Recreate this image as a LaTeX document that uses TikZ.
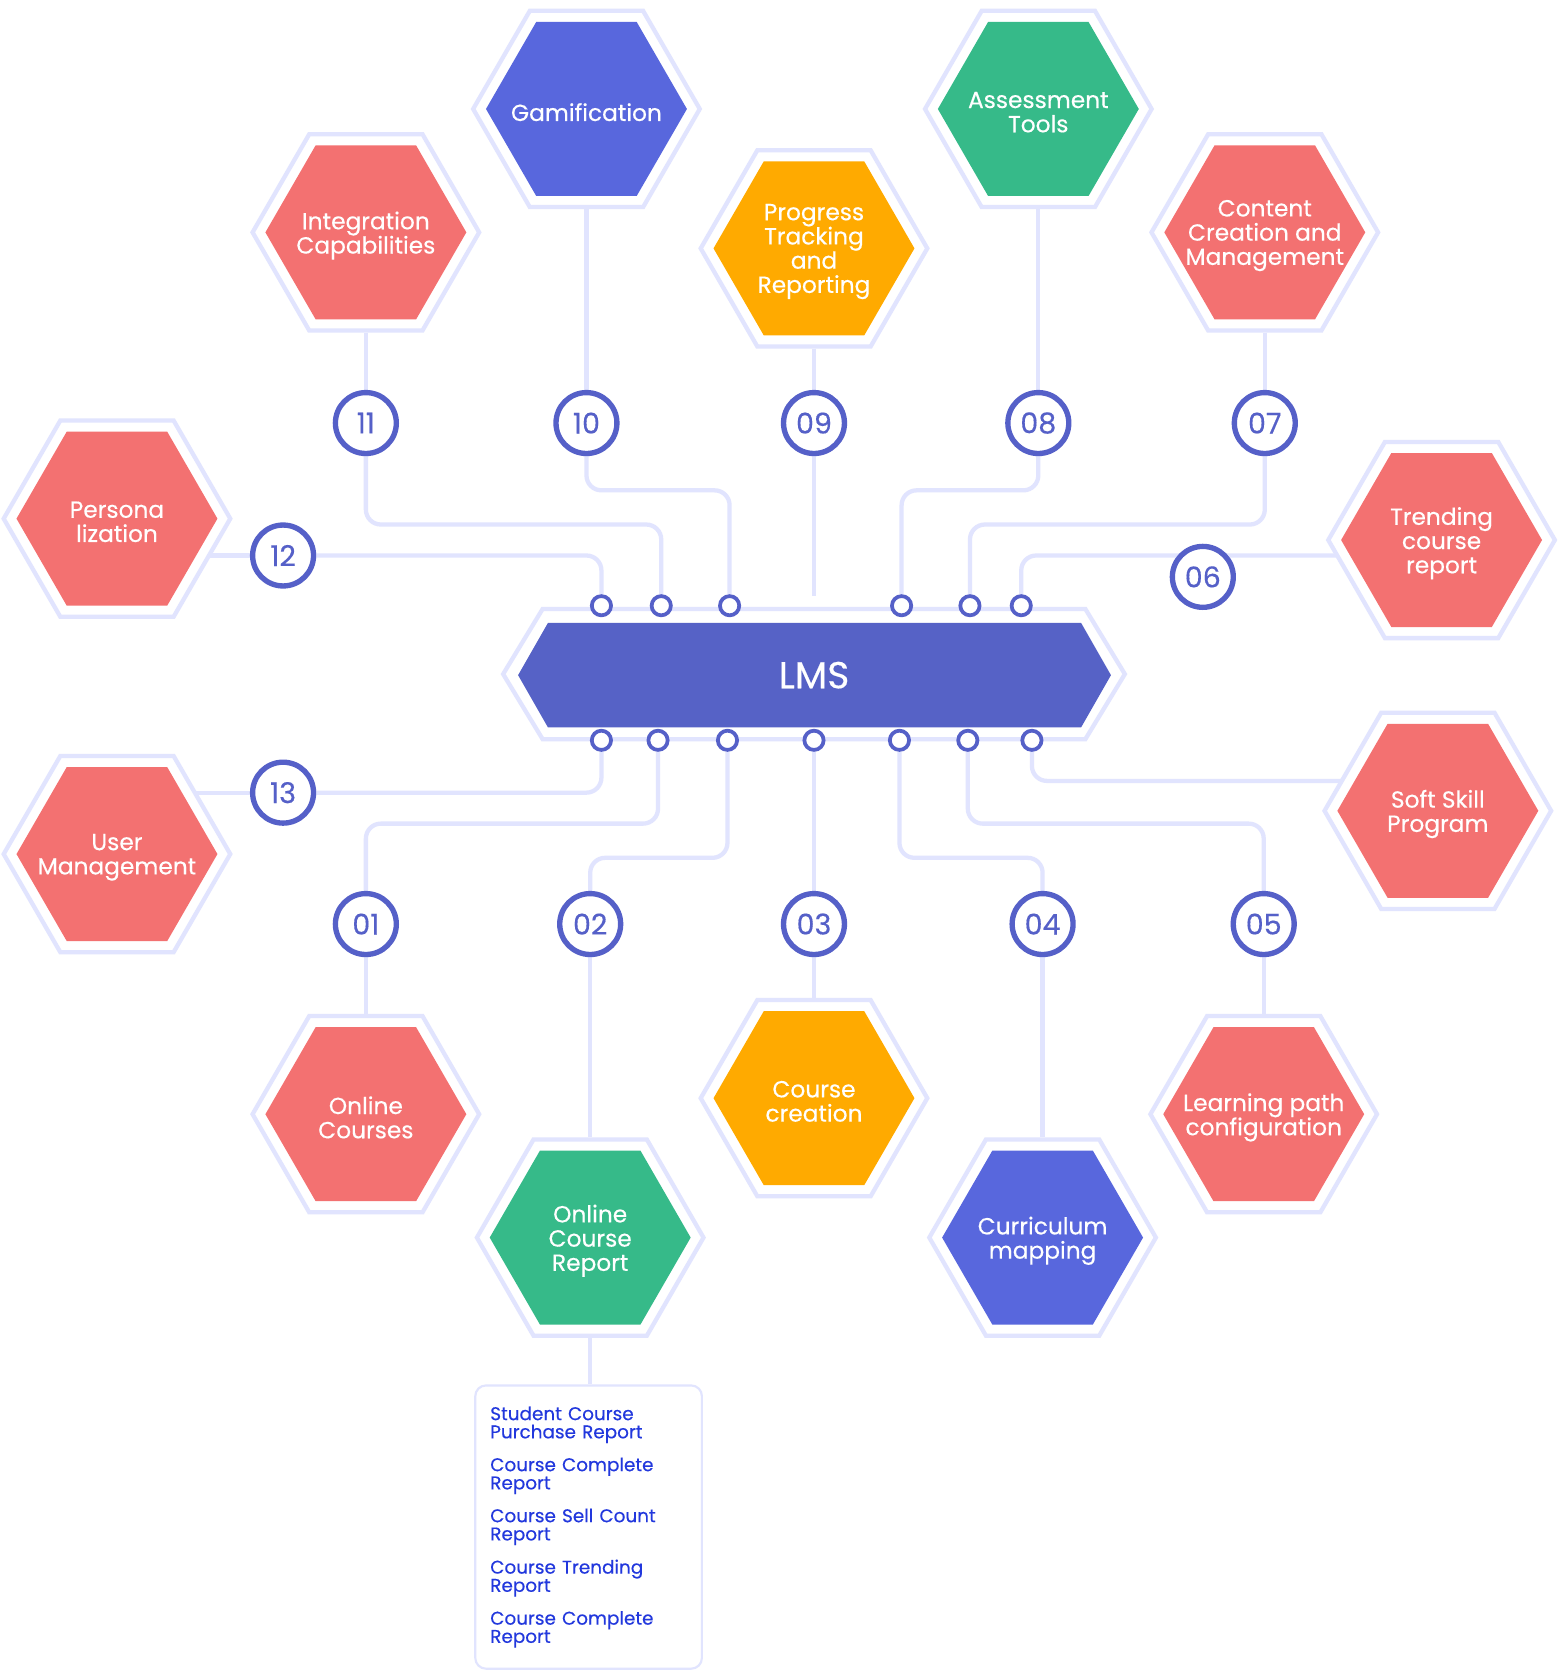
\documentclass[tikz,border=0pt]{standalone}
\usepackage{fontspec}
\setmainfont{Poppins}[FakeBold=0.35]
\usetikzlibrary{shapes.geometric, backgrounds}

\definecolor{salmon}{HTML}{F37171}
\definecolor{hexblue}{HTML}{5867DD}
\definecolor{mint}{HTML}{36BA89}
\definecolor{amber}{HTML}{FFAA00}
\definecolor{lmsblue}{HTML}{5662C6}
\definecolor{pinblue}{HTML}{5560C8}
\definecolor{lav}{HTML}{E1E4FE}
\definecolor{listblue}{HTML}{2238DD}

\setlength{\lineskiplimit}{-10pt}
\newcommand{\hexfont}{\fontsize{6.2}{6.45}\selectfont}
\newcommand{\numfont}{\fontsize{7.6}{8}\selectfont}
\newcommand{\lmsfont}{\fontsize{10}{11}\selectfont}
\newcommand{\repfont}{\fontsize{4.9}{4.84}\selectfont}

\tikzset{
  ring/.style={regular polygon, regular polygon sides=6, minimum size=2.12cm, inner sep=0pt, draw=lav, line width=0.4mm, fill=white},
  hexin/.style={regular polygon, regular polygon sides=6, minimum size=1.88cm, inner sep=0pt},
  hexlabel/.style={text=white, align=center, font=\hexfont, yshift=-0.03cm},
  num/.style={circle, draw=pinblue, line width=0.5mm, fill=white, minimum size=0.57cm, inner sep=0pt, text=pinblue, font=\numfont},
  pin/.style={circle, draw=pinblue, line width=0.35mm, fill=white, minimum size=0.18cm, inner sep=0pt},
  link/.style={draw=lav, line width=0.4mm, rounded corners=1.4mm},
  repbox/.style={draw=lav, line width=0.2mm, rounded corners=1mm, minimum width=2.12cm, minimum height=2.65cm, text width=1.84cm, align=left, inner xsep=0.14cm, text=listblue, font=\repfont}
}

\begin{document}
\begin{tikzpicture}[x=0.01cm, y=-0.01cm]
\useasboundingbox (0,0) rectangle (1458,1568);

% feature hexagons
\foreach \nm/\px/\py/\col/\txt in {
  integ/342.5/217.5/salmon/{Integration\\Capabilities},
  gam/549/102/hexblue/{Gamification},
  prog/762/232.5/amber/{Progress\\Tracking\\and\\Reporting},
  ass/972/102/mint/{Assessment\\Tools},
  cont/1184/217.5/salmon/{Content\\Creation and\\Management},
  pers/109.5/485.5/salmon/{Persona\\lization},
  trend/1349.5/505.5/salmon/{Trending\\course\\report},
  soft/1346/759/salmon/{Soft Skill\\Program},
  user/109.5/799.5/salmon/{User\\Management},
  onc/342.5/1043/salmon/{Online\\Courses},
  ocr/552.5/1158.5/mint/{Online\\Course\\Report},
  cc/762/1028/amber/{Course\\creation},
  cur/976/1158.5/hexblue/{Curriculum\\mapping},
  lp/1183/1043/salmon/{Learning path\\configuration}}{
  \node[ring] (\nm-r) at (\px,\py) {};
  \node[hexin, fill=\col, label={[hexlabel]center:\txt}] (\nm) at (\px,\py) {};
}

% LMS bar
\draw[lav, line width=0.4mm, fill=white] (471,631) -- (508,570) -- (1016,570) -- (1053,631) -- (1016,692) -- (508,692) -- cycle;
\fill[lmsblue] (485,632) -- (513,583) -- (1012,583) -- (1040,632) -- (1012,681) -- (513,681) -- cycle;
\node[text=white, font=\lmsfont] (lms) at (762,632) {LMS};
\coordinate (lmstop) at (762,558);

\foreach \i/\px in {1/563, 2/619, 3/683, 4/844, 5/908, 6/956}
  \node[pin] (t\i) at (\px,567) {};
\foreach \i/\px in {1/563, 2/616, 3/681, 4/762, 5/842, 6/906, 7/966}
  \node[pin] (b\i) at (\px,693) {};

% numbered steps
\node[num] (c11) at (342.5,396) {11};
\node[num] (c10) at (549,396) {10};
\node[num] (c09) at (762,396) {09};
\node[num] (c08) at (972,396) {08};
\node[num] (c07) at (1184,396) {07};
\node[num] (c12) at (265,520) {12};
\node[num] (c06) at (1126,540) {06};
\node[num] (c13) at (265,742) {13};
\node[num] (c01) at (342.5,865) {01};
\node[num] (c02) at (552.5,865) {02};
\node[num] (c03) at (762,865) {03};
\node[num] (c04) at (976,865) {04};
\node[num] (c05) at (1183,865) {05};

% report list
\node[repbox] (rep) at (551,1429.5) {Student Course\\Purchase Report\\[0.10cm]Course Complete\\Report\\[0.10cm]Course Sell Count\\Report\\[0.10cm]Course Trending\\Report\\[0.10cm]Course Complete\\Report};

\begin{scope}[on background layer]
\fill[white] (0,0) rectangle (1458,1568);
% upper branches
\draw[link] (integ-r) -- (c11);
\draw[link] (c11) -- (c11 |- 0,491) -- (t2 |- 0,491) -- (t2);
\draw[link] (gam-r) -- (c10);
\draw[link] (c10) -- (c10 |- 0,459) -- (t3 |- 0,459) -- (t3);
\draw[link] (prog-r) -- (c09);
\draw[link] (c09) -- (lmstop);
\draw[link] (ass-r) -- (c08);
\draw[link] (c08) -- (c08 |- 0,459) -- (t4 |- 0,459) -- (t4);
\draw[link] (cont-r) -- (c07);
\draw[link] (c07) -- (c07 |- 0,491) -- (t5 |- 0,491) -- (t5);
\draw[link] (pers |- c12) -- (c12);
\draw[link] (c12) -- (t1 |- c12) -- (t1);
\draw[link] (trend |- 0,520) -- (t6 |- 0,520) -- (t6);
% lower branches
\draw[link] (b1) -- (b1 |- c13) -- (c13);
\draw[link] (c13) -- (user |- c13);
\draw[link] (b2) -- (b2 |- 0,771) -- (c01 |- 0,771) -- (c01);
\draw[link] (c01) -- (onc-r);
\draw[link] (b3) -- (b3 |- 0,803) -- (c02 |- 0,803) -- (c02);
\draw[link] (c02) -- (ocr-r);
\draw[link] (b4) -- (c03);
\draw[link] (c03) -- (cc-r);
\draw[link] (b5) -- (b5 |- 0,803) -- (c04 |- 0,803) -- (c04);
\draw[link] (c04) -- (cur-r);
\draw[link] (b6) -- (b6 |- 0,771) -- (c05 |- 0,771) -- (c05);
\draw[link] (c05) -- (lp-r);
\draw[link] (b7) -- (b7 |- 0,731) -- (soft |- 0,731);
\draw[link] (ocr-r) -- (ocr-r |- rep.north);
\end{scope}
\end{tikzpicture}
\end{document}
